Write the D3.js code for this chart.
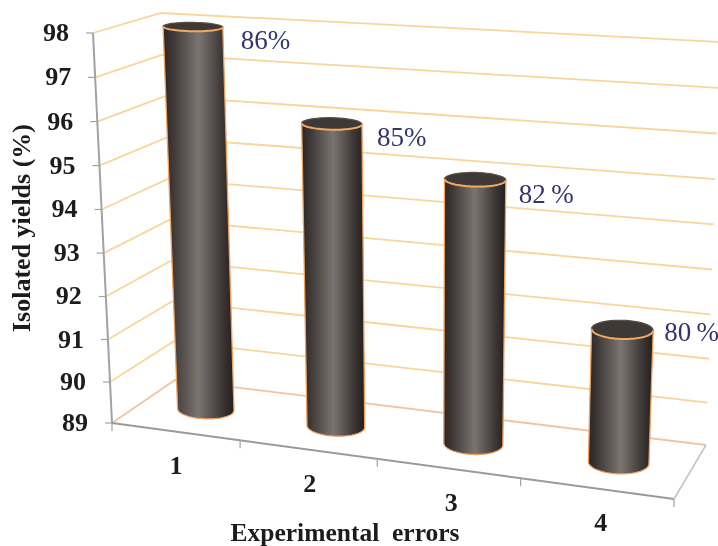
<!DOCTYPE html>
<html><head><meta charset="utf-8">
<script src="https://cdn.jsdelivr.net/npm/d3@7"></script>
<style>
html,body{margin:0;padding:0;background:#fff;overflow:hidden}
svg{display:block;filter:blur(.65px)}
text{font-family:"Liberation Serif",serif}
</style></head><body>
<svg id="c" width="718" height="546"></svg>
<script>
const categories = ["1","2","3","4"];
const yieldValues = [98,96,95,92];
const dataLabels = ["86%","85%","82\u2009%","80\u2009%"];
const yTicks = [89,90,91,92,93,94,95,96,97,98];
const xTitle = "Experimental  errors";
const yTitle = "Isolated yields (%)";

const W=718,H=546;
// Box corners of the 3D chart as [x,y] at floor and at the top of the value axis
const box = {
  FL:{b:[112,423],t:[93,33]},
  FR:{b:[674,499],t:[691,71]},
  BL:{b:[175,380],t:[161,13]},
  BR:{b:[706,445],t:[720,42]}
};
const lerp=(a,b,t)=>a+(b-a)*t;
// perspective foreshortening of the category axis
const xWarp=d3.scaleLinear().domain([0,1,2,3,4]).range([0,.228,.472,.727,1]);
const yWarp=d3.scalePow().exponent(1.025).domain([0,yTicks[yTicks.length-1]-yTicks[0]]).range([0,1]);
const yPos=v=>yWarp(v-yTicks[0]);
function P(u,d,t){
  const corner=k=>{
    const f=[lerp(box.FL[k][0],box.FR[k][0],u),lerp(box.FL[k][1],box.FR[k][1],u)];
    const g=[lerp(box.BL[k][0],box.BR[k][0],u),lerp(box.BL[k][1],box.BR[k][1],u)];
    return [lerp(f[0],g[0],d),lerp(f[1],g[1],d)];
  };
  const b=corner("b"),a=corner("t");
  return [lerp(b[0],a[0],t),lerp(b[1],a[1],t)];
}
const svg=d3.select("#c");
const line=d3.line();

// gradient
const defs=svg.append("defs");
const grad=defs.append("linearGradient").attr("id","cyl");
[[0,"#2b2523"],[.12,"#3b3634"],[.5,"#7c7471"],[.82,"#3e3937"],[1,"#231e1d"]].forEach(s=>
  grad.append("stop").attr("offset",s[0]).attr("stop-color",s[1]));

// gridlines: left wall and back wall
const grid=svg.append("g").attr("fill","none");
yTicks.forEach(v=>{
  const t=yPos(v);
  grid.append("path").attr("d",line([P(0,0,t),P(0,1,t),P(1,1,t)]))
    .attr("stroke",v===89?"#f3c4a0":"#f8d69a").attr("stroke-width",1.8);
});

// floor / axes
const axis=svg.append("g").attr("fill","none").attr("stroke","#a2a2a6").attr("stroke-width",1.6);
axis.append("path").attr("d",line([P(0,0,0),P(0,0,1)])).attr("stroke-width",2);
axis.append("path").attr("d",line([P(0,0,0),P(1,0,0)])).attr("stroke-width",2).attr("stroke","#9a9a9e");
axis.append("path").attr("d",line([P(1,0,0),P(1,1,0)])).attr("stroke","#c4c4c6");
yTicks.forEach(v=>{
  const p=P(0,0,yPos(v));
  axis.append("path").attr("d",line([[p[0]-7,p[1]],p])).attr("stroke-width",1.2);
});
d3.range(categories.length+1).forEach(i=>{
  const p=P(xWarp(i),0,0);
  axis.append("path").attr("d",line([p,[p[0],p[1]+8]])).attr("stroke-width",1.2);
});

// cylinders
const dd=0.21,N=48,tilt=0.25;
const bars=svg.append("g");
const layoutDx=[18,15,13,11], layoutDy=[16,16,17,5];
categories.forEach((c,i)=>{
  const u=xWarp(i+.5)+.002*i;
  const du=0.051+0.005*u;
  const tv=yPos(yieldValues[i]);
  const pt=(a,t)=>{
    const ctr=P(u,.5,t), r=P(u+du,.5,t);
    const ry=(P(u,.5-dd,t)[1]-P(u,.5+dd,t)[1])/2;
    return [ctr[0]+(r[0]-ctr[0])*Math.cos(a), ctr[1]+(r[1]-ctr[1])*tilt*Math.cos(a)+ry*Math.sin(a)];
  };
  const arc=(from,to,t)=>d3.range(N+1).map(k=>pt(lerp(from,to,k/N),t));
  const body=[...arc(0,Math.PI,0),...arc(Math.PI,0,tv)];
  const g=bars.append("g");
  g.append("path").attr("d",line(body)+"Z").attr("fill","url(#cyl)")
    .attr("stroke","#ee9f5c").attr("stroke-width",1.3);
  g.append("path").attr("d",line(arc(0,2*Math.PI,tv))+"Z").attr("fill","#3d3937")
    .attr("stroke","#5c4f47").attr("stroke-width",1.2);
  g.append("path").attr("d",line(arc(0,Math.PI,tv))).attr("fill","none")
    .attr("stroke","#f2a765").attr("stroke-width",2);
  // value label
  const right=pt(0,tv), centre=P(u,.5,tv);
  svg.append("text").attr("x",right[0]+layoutDx[i]).attr("y",centre[1]+layoutDy[i])
    .attr("dominant-baseline","middle").attr("font-size",27).attr("fill","#33336f").text(dataLabels[i]);
  // category label
  const f=P(u,0,0);
  svg.append("text").attr("x",f[0]).attr("y",f[1]+36).attr("text-anchor","middle")
    .attr("dominant-baseline","middle").attr("font-size",26).attr("font-weight","bold").attr("fill","#1c1c1c").text(c);
});

// y tick labels
yTicks.forEach(v=>{
  const p=P(0,0,yPos(v));
  svg.append("text").attr("x",p[0]-24).attr("y",p[1]+2).attr("text-anchor","end")
    .attr("dominant-baseline","middle").attr("font-size",26).attr("font-weight","bold").attr("fill","#1c1c1c").text(v);
});
// titles
svg.append("text").attr("x",345).attr("y",535).attr("text-anchor","middle").attr("dominant-baseline","middle")
  .attr("font-size",25.5).attr("font-weight","bold").attr("fill","#1c1c1c").attr("xml:space","preserve").style("white-space","pre").text(xTitle);
svg.append("text").attr("transform","translate(24,228) rotate(-90)").attr("text-anchor","middle").attr("dominant-baseline","middle")
  .attr("font-size",26).attr("font-weight","bold").attr("fill","#1c1c1c").text(yTitle);
</script>
</body></html>
